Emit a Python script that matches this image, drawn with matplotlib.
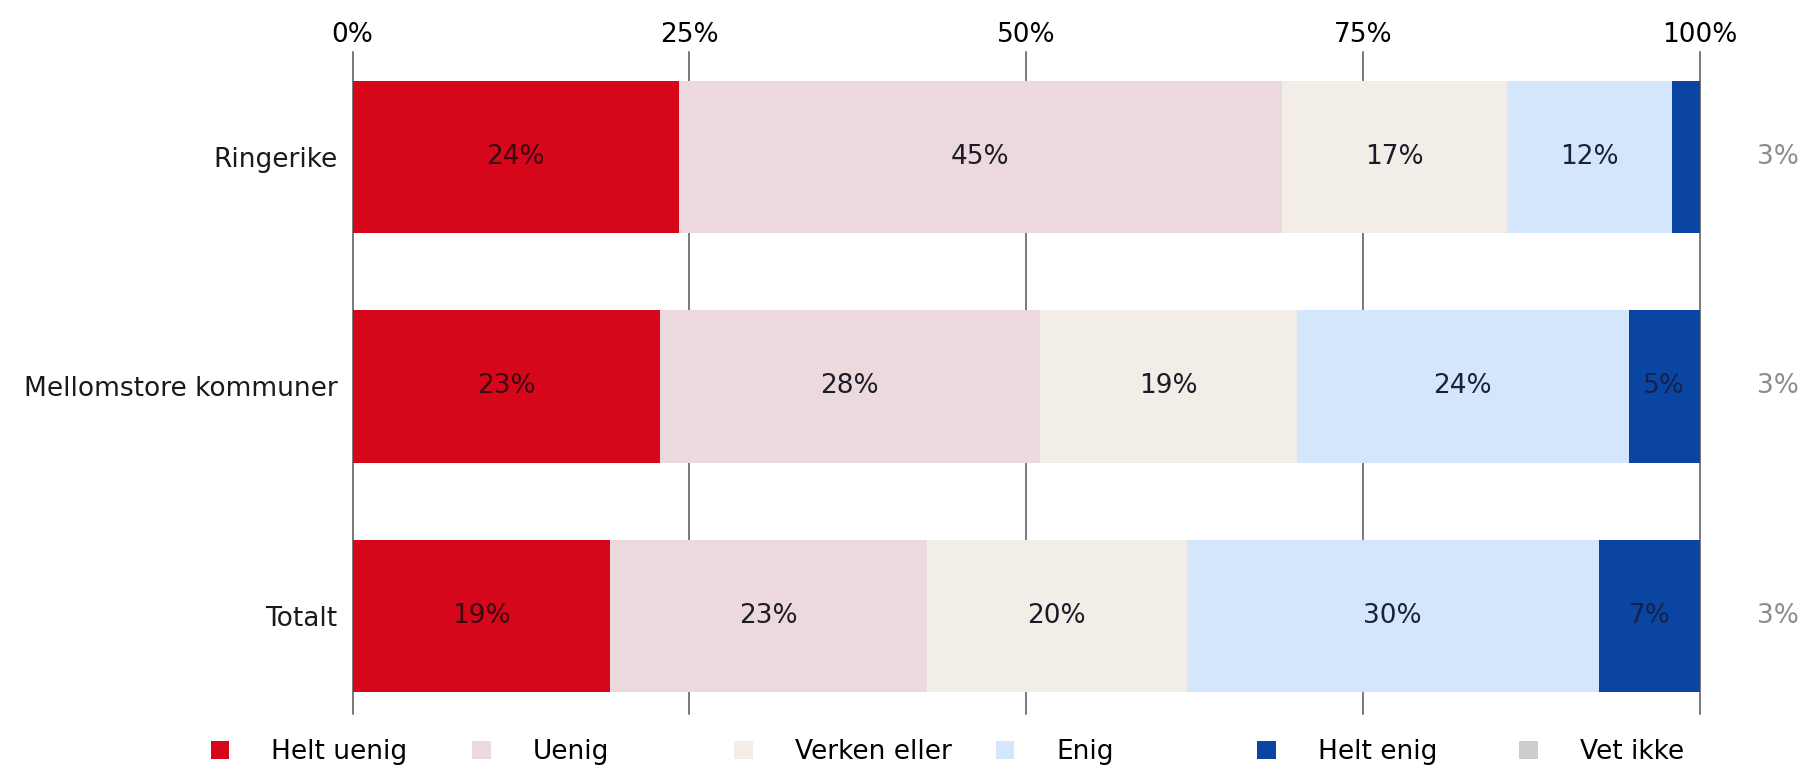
import numpy as np
import matplotlib
matplotlib.use("Agg")
from matplotlib import pyplot as plt
from matplotlib.patches import Patch

# data
groups = ["Ringerike", "Mellomstore kommuner", "Totalt"]
categories = ["Helt uenig", "Uenig", "Verken eller", "Enig", "Helt enig", "Vet ikke"]

# bar widths (share of answers excluding "Vet ikke")
helt_uenig = [24.2, 22.8, 19.1]
uenig = [44.8, 28.2, 23.5]
verken = [16.7, 19.1, 19.3]
enig = [12.2, 24.6, 30.6]
helt_enig = [2.1, 5.3, 7.5]

# printed labels
helt_uenig_lbl = [24, 23, 19]
uenig_lbl = [45, 28, 23]
verken_lbl = [17, 19, 20]
enig_lbl = [12, 24, 30]
helt_enig_lbl = [None, 5, 7]
vet_ikke_lbl = [3, 3, 3]

colors = ["#d6061b", "#ecd9dd", "#f3ede7", "#d3e6fb", "#0b45a2", "#cdcdcd"]
text_colors = ["#3c0810", "#1c1c28", "#1c1c28", "#1c2236", "#14224a"]

plt.rcParams['font.family'] = ['DejaVu Sans']
fs = 19

fig = plt.figure(figsize=(18.01, 7.69), dpi=100)
ax = fig.add_axes([0.1958, 0.0715, 0.7481, 0.861])

y = np.arange(len(groups))
series = [helt_uenig, uenig, verken, enig, helt_enig]
labels = [helt_uenig_lbl, uenig_lbl, verken_lbl, enig_lbl, helt_enig_lbl]
left = np.zeros(len(groups))
for i, vals in enumerate(series):
    vals = np.array(vals)
    ax.barh(y, vals, left=left, height=0.665, color=colors[i], zorder=3)
    for j in range(len(groups)):
        if labels[i][j] is not None:
            ax.text(left[j] + vals[j] / 2, y[j], f"{labels[i][j]}%",
                    ha='center', va='center', fontsize=fs, color=text_colors[i], zorder=4)
    left = left + vals

# "Vet ikke" shown beside the bars
for j in range(len(groups)):
    ax.text(105.8, y[j], f"{vet_ikke_lbl[j]}%", ha='center', va='center',
            fontsize=fs, color='#8c8c8c', clip_on=False)

ax.set_xlim(0, 100)
ax.set_ylim(2 + 0.427, -0.4575)
ax.set_xticks([0, 25, 50, 75, 100])
ax.set_xticklabels(["0%", "25%", "50%", "75%", "100%"], fontsize=fs)
ax.xaxis.tick_top()
ax.tick_params(axis='x', length=0, pad=3)
ax.tick_params(axis='y', length=0, pad=11)
ax.set_yticks(y)
ax.set_yticklabels(groups, fontsize=fs, color='#1a1a1a')
ax.grid(axis='x', color='#555555', linewidth=1.1, zorder=0)
for l in ax.get_xgridlines():
    l.set_clip_on(False)
for s in ax.spines.values():
    s.set_visible(False)

# legend: one entry per slot, evenly spaced like the reference
for i, c in enumerate(categories):
    fig.legend([Patch(facecolor=colors[i], edgecolor='none')], [c],
               loc='center left', bbox_to_anchor=(0.117 + i * 0.1453, 0.022),
               frameon=False, fontsize=fs, handlelength=0.7, handleheight=0.7,
               handletextpad=1.6, borderpad=0, borderaxespad=0)

plt.savefig("out.png", dpi=100)
